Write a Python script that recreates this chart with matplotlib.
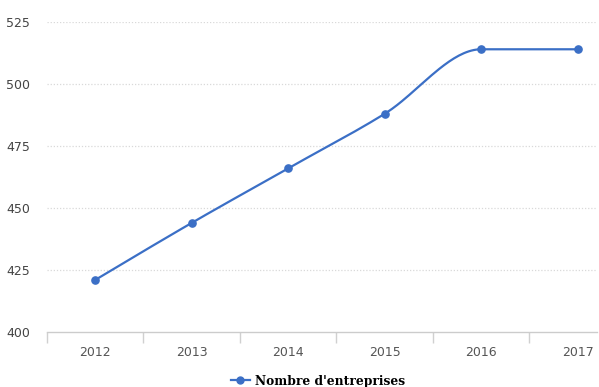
import numpy as np
import matplotlib
matplotlib.use("Agg")
import matplotlib.pyplot as plt
from matplotlib.lines import Line2D

years = ["2012", "2013", "2014", "2015", "2016", "2017"]
entreprises = [421, 444, 466, 488, 514, 514]
y_ticks = [400, 425, 450, 475, 500, 525]
series_label = "Nombre d'entreprises"

LINE = "#3b6fc6"


def monotone_curve(x, y, n=40):
    """Monotone cubic (Fritsch-Carlson) curve through the points."""
    x = np.asarray(x, float)
    y = np.asarray(y, float)
    h = np.diff(x)
    d = np.diff(y) / h
    m = np.zeros_like(y)
    for i in range(1, len(y) - 1):
        if d[i - 1] * d[i] <= 0:
            m[i] = 0
        else:
            s = (d[i - 1] * h[i] + d[i] * h[i - 1]) / (h[i - 1] + h[i])
            m[i] = np.sign(s) * min(abs(s), 2 * abs(d[i - 1]), 2 * abs(d[i]))
    m[0] = (3 * d[0] - m[1]) / 2 if d[0] != 0 else 0
    m[-1] = (3 * d[-1] - m[-2]) / 2 if d[-1] != 0 else 0
    xs, ys = [], []
    for i in range(len(x) - 1):
        t = np.linspace(0, 1, n)
        h00 = 2 * t**3 - 3 * t**2 + 1
        h10 = t**3 - 2 * t**2 + t
        h01 = -2 * t**3 + 3 * t**2
        h11 = t**3 - t**2
        xs.append(x[i] + t * h[i])
        ys.append(h00 * y[i] + h10 * h[i] * m[i] + h01 * y[i + 1] + h11 * h[i] * m[i + 1])
    return np.concatenate(xs), np.concatenate(ys)


fig = plt.figure(figsize=(5.99, 3.87), dpi=100)
ax = fig.add_axes([47 / 599, 55 / 387, 550 / 599, 310 / 387])

pos = np.arange(len(years))
cx, cy = monotone_curve(pos, entreprises)
ax.plot(cx, cy, color=LINE, lw=1.6, zorder=3, clip_on=False)
ax.plot(pos, entreprises, "o", color=LINE, ms=5.2, zorder=4, clip_on=False)

ax.set_xlim(-0.5, 5.2)
ax.set_ylim(400, 525)

for v in y_ticks[1:]:
    ax.axhline(v, color="#d9d9d9", lw=0.9, ls=(0, (1, 1.5)), zorder=1)

for s in ["top", "right", "left"]:
    ax.spines[s].set_visible(False)
ax.spines["bottom"].set_color("#cccccc")
ax.spines["bottom"].set_linewidth(1.0)

ax.set_yticks(y_ticks)
ax.set_yticklabels([str(v) for v in y_ticks])
ax.tick_params(axis="y", length=0, pad=12, labelsize=9, labelcolor="#444444")

ax.set_xticks(pos)
ax.set_xticklabels(years)
ax.tick_params(axis="x", length=0, pad=10, labelsize=9, labelcolor="#555555")
ax.set_xticks(np.arange(-0.5, 5.0, 1.0), minor=True)
ax.tick_params(axis="x", which="minor", length=8, width=1.0, color="#d0d0d0")

handle = Line2D([0], [0], color=LINE, lw=1.6, marker="o", ms=5, markeredgecolor=LINE)
fig.legend([handle], [series_label], loc="center", bbox_to_anchor=(318 / 599, 1 - 381 / 387),
           frameon=False, handlelength=1.6, handletextpad=0.4,
           prop={"family": "DejaVu Serif", "weight": "bold", "size": 8.8})

fig.savefig("out.png", dpi=100, facecolor="white")
